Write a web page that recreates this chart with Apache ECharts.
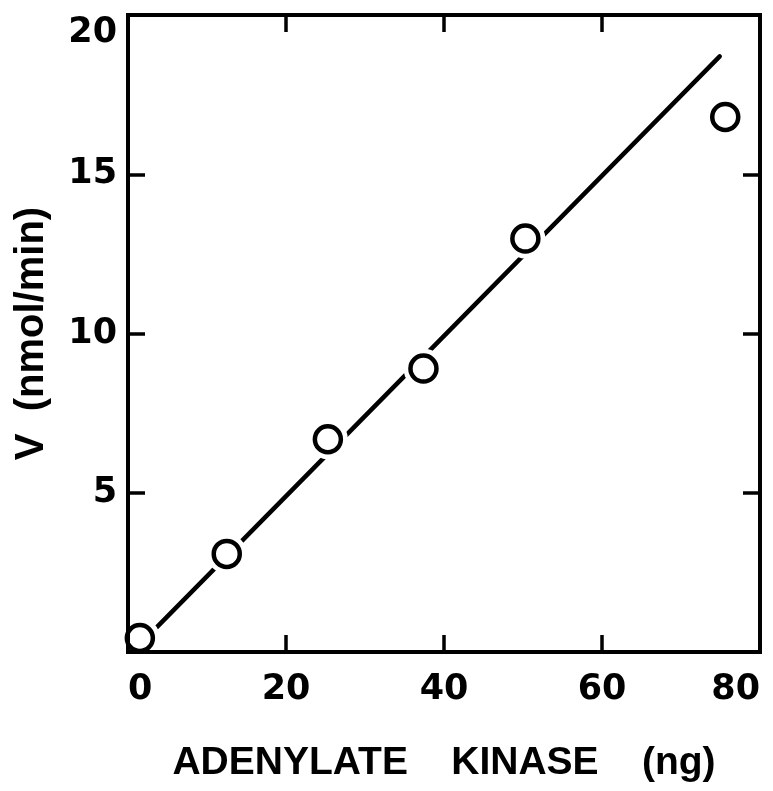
<!DOCTYPE html>
<html>
<head>
<meta charset="utf-8">
<script src="https://cdn.jsdelivr.net/npm/echarts@6/dist/echarts.min.js"></script>
<style>
  html, body { margin: 0; padding: 0; background: #ffffff; }
  #chart { width: 773px; height: 791px; }
</style>
</head>
<body>
<div id="chart"></div>
<script>
// Measured activity versus amount of enzyme
const enzymeNg = [1.5, 12.5, 25.3, 37.4, 50.3, 75.6];
const rateNmolMin = [0.44, 3.08, 6.68, 8.9, 12.98, 16.8];

// Least-squares line, given by its two drawn end points
const fitNg = [1.5, 74.9];
const fitRate = [0.24, 18.7];

const xTicks = [0, 20, 40, 60, 80];
const yTicks = [0, 5, 10, 15, 20];

const xTitle = 'ADENYLATE    KINASE    (ng)';
const yTitle = 'V  (nmol/min)';

const INK = '#000000';
const tickFont = { fontFamily: 'DejaVu Sans', fontWeight: 'bold', fontSize: 35, color: INK };
const titleFont = { fontFamily: 'Liberation Sans', fontWeight: 'bold', color: INK };

const xMin = xTicks[0], xMax = xTicks[xTicks.length - 1];
const yMin = yTicks[0], yMax = yTicks[yTicks.length - 1];
const xStep = xTicks[1] - xTicks[0];
const yStep = yTicks[1] - yTicks[0];

const frameLine = { show: true, onZero: false, lineStyle: { color: INK, width: 4, cap: 'square' } };
const innerTick = { show: true, inside: true, length: 17, lineStyle: { color: INK, width: 3.5 } };

const chart = echarts.init(document.getElementById('chart'), null, { renderer: 'canvas' });

chart.setOption({
  backgroundColor: '#ffffff',
  animation: false,
  grid: { left: 128, top: 15, width: 632, height: 637, containLabel: false, outerBoundsMode: 'none' },
  xAxis: [
    {
      type: 'value', position: 'bottom', min: xMin, max: xMax, interval: xStep, z: 10,
      axisLine: frameLine, axisTick: innerTick, splitLine: { show: false },
      axisLabel: Object.assign({ margin: 20, alignMinLabel: 'left', alignMaxLabel: 'right' }, tickFont),
      name: xTitle, nameLocation: 'middle', nameGap: 92,
      nameTextStyle: Object.assign({ fontSize: 39 }, titleFont)
    },
    {
      type: 'value', position: 'top', min: xMin, max: xMax, interval: xStep, z: 10,
      axisLine: frameLine, axisTick: innerTick, splitLine: { show: false },
      axisLabel: { show: false }
    }
  ],
  yAxis: [
    {
      type: 'value', position: 'left', min: yMin, max: yMax, interval: yStep, z: 10,
      axisLine: frameLine, axisTick: innerTick, splitLine: { show: false },
      axisLabel: Object.assign({ margin: 11, showMinLabel: false, verticalAlignMaxLabel: 'top' }, tickFont),
      name: yTitle, nameLocation: 'middle', nameRotate: 90, nameGap: 76,
      nameTextStyle: Object.assign({ fontSize: 40 }, titleFont)
    },
    {
      type: 'value', position: 'right', min: yMin, max: yMax, interval: yStep, z: 10,
      axisLine: frameLine, axisTick: innerTick, splitLine: { show: false },
      axisLabel: { show: false }
    }
  ],
  series: [
    {
      type: 'line',
      data: fitNg.map((x, i) => [x, fitRate[i]]),
      showSymbol: false,
      symbol: 'none',
      lineStyle: { color: INK, width: 4.5, cap: 'round' },
      z: 2,
      silent: true
    },
    {
      // white halo that leaves a gap in the line around each point
      type: 'scatter',
      data: enzymeNg.map((x, i) => [x, rateNmolMin[i]]),
      symbol: 'circle',
      symbolSize: 40,
      itemStyle: { color: '#ffffff', borderWidth: 0, opacity: 1 },
      z: 3,
      silent: true,
      clip: false
    },
    {
      type: 'scatter',
      data: enzymeNg.map((x, i) => [x, rateNmolMin[i]]),
      symbol: 'circle',
      symbolSize: 26,
      itemStyle: { color: '#ffffff', borderColor: INK, borderWidth: 4.5, opacity: 1 },
      z: 4,
      silent: true,
      clip: false
    }
  ]
});
</script>
</body>
</html>
